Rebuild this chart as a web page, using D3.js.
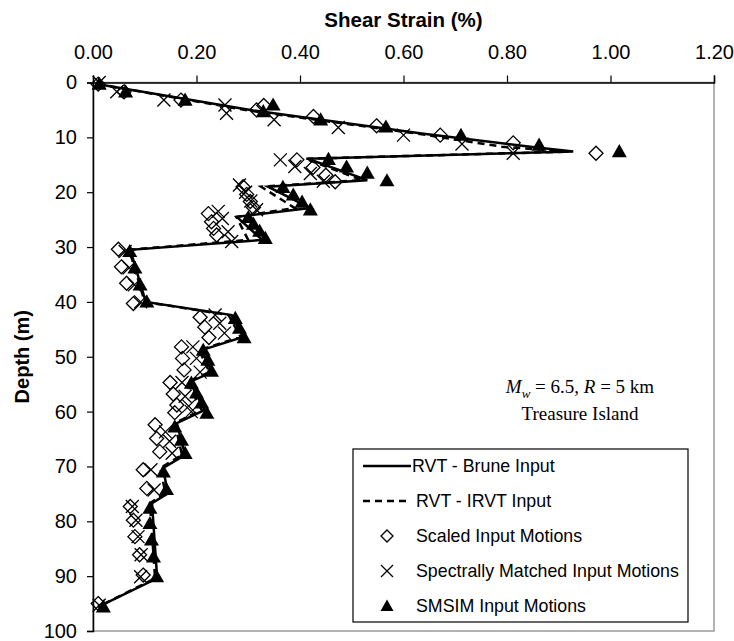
<!DOCTYPE html>
<html>
<head>
<meta charset="utf-8">
<script src="https://cdn.jsdelivr.net/npm/d3@7/dist/d3.min.js"></script>
<style>
  body { margin: 0; background: #fff; }
  text { font-family: "Liberation Sans", Arial, sans-serif; fill: #000; }
</style>
</head>
<body>
<div id="chart"></div>
<script>
// shear strain (%) vs depth (m), Treasure Island
var rvtDepth = [0.3, 5.1, 9.3, 11.7, 12.6, 13.9, 17.8, 19.0, 22.9, 24.5, 28.7, 30.5, 40.0, 42.4, 46.4, 48.8, 52.8, 54.6, 59.7, 62.1, 67.9, 70.3, 74.9, 76.7, 90.4, 95.6];
var bruneStrain = [0.01, 0.31, 0.635, 0.845, 0.928, 0.415, 0.53, 0.338, 0.42, 0.278, 0.327, 0.072, 0.102, 0.268, 0.29, 0.21, 0.23, 0.187, 0.216, 0.162, 0.178, 0.135, 0.145, 0.114, 0.124, 0.01];
var irvtStrain = [0.01, 0.30, 0.625, 0.79, 0.92, 0.41, 0.52, 0.325, 0.39, 0.277, 0.30, 0.07, 0.10, 0.262, 0.285, 0.205, 0.225, 0.182, 0.21, 0.158, 0.172, 0.13, 0.14, 0.11, 0.12, 0.01];

var scaledDepth = [0.3, 1.7, 3.2, 4.2, 5.0, 6.2, 7.9, 9.6, 11.0, 12.9, 14.1, 15.5, 16.9, 18.1, 19.0, 20.4, 21.7, 22.8, 23.9, 25.4, 26.6, 27.8, 30.4, 33.6, 36.6, 40.3, 42.8, 44.6, 46.5, 48.2, 50.3, 52.4, 54.7, 56.8, 58.8, 60.2, 62.4, 64.9, 67.3, 70.6, 74.0, 77.3, 79.8, 82.8, 86.1, 89.8, 95.0];
var scaledStrain = [0.01, 0.06, 0.17, 0.33, 0.316, 0.426, 0.548, 0.671, 0.812, 0.972, 0.394, 0.425, 0.45, 0.468, 0.29, 0.297, 0.304, 0.31, 0.223, 0.229, 0.233, 0.239, 0.049, 0.055, 0.065, 0.078, 0.207, 0.216, 0.224, 0.171, 0.173, 0.176, 0.149, 0.155, 0.162, 0.158, 0.12, 0.123, 0.129, 0.097, 0.104, 0.072, 0.078, 0.081, 0.09, 0.097, 0.01];

var matchedDepth = [0.0, 1.7, 3.2, 4.1, 5.6, 6.8, 8.2, 9.6, 11.2, 12.9, 14.1, 15.3, 16.6, 18.0, 18.7, 20.0, 21.6, 23.2, 23.5, 24.8, 27.2, 29.0, 30.8, 33.8, 36.9, 40.0, 42.4, 43.9, 45.7, 48.2, 50.3, 52.8, 54.7, 57.2, 59.0, 60.0, 63.7, 65.4, 67.6, 70.6, 74.3, 77.3, 79.8, 82.8, 86.1, 90.1, 95.3];
var matchedStrain = [0.012, 0.046, 0.137, 0.255, 0.258, 0.35, 0.474, 0.60, 0.713, 0.812, 0.362, 0.39, 0.42, 0.445, 0.283, 0.295, 0.305, 0.316, 0.242, 0.25, 0.261, 0.268, 0.062, 0.07, 0.08, 0.092, 0.236, 0.245, 0.254, 0.193, 0.2, 0.207, 0.172, 0.178, 0.185, 0.19, 0.14, 0.148, 0.153, 0.112, 0.118, 0.076, 0.083, 0.087, 0.093, 0.092, 0.012];

var smsimDepth = [0.3, 1.7, 3.2, 4.1, 5.3, 6.8, 8.1, 9.6, 11.4, 12.6, 14.0, 15.4, 16.5, 17.9, 19.1, 20.5, 21.8, 23.2, 24.6, 25.8, 27.1, 28.4, 30.8, 33.8, 36.9, 40.0, 43.0, 44.8, 46.5, 48.8, 50.6, 52.6, 54.8, 56.6, 58.4, 60.3, 62.8, 65.2, 67.6, 71.0, 74.2, 77.6, 80.4, 83.4, 86.5, 90.1, 95.6];
var smsimStrain = [0.012, 0.063, 0.178, 0.348, 0.329, 0.44, 0.566, 0.711, 0.862, 1.017, 0.455, 0.49, 0.53, 0.568, 0.367, 0.387, 0.404, 0.42, 0.30, 0.31, 0.322, 0.333, 0.071, 0.081, 0.091, 0.104, 0.275, 0.283, 0.292, 0.213, 0.222, 0.229, 0.19, 0.20, 0.21, 0.22, 0.158, 0.171, 0.178, 0.136, 0.142, 0.11, 0.11, 0.113, 0.117, 0.123, 0.02];

var xTicks = [0, 0.2, 0.4, 0.6, 0.8, 1.0, 1.2];
var yTicks = [0, 10, 20, 30, 40, 50, 60, 70, 80, 90, 100];
var legendLabels = ["RVT - Brune Input", "RVT - IRVT Input", "Scaled Input Motions", "Spectrally Matched Input Motions", "SMSIM Input Motions"];

var W = 734, H = 641;
var plotL = 93, plotT = 82.5, plotR = 714, plotB = 631;

var svg = d3.select("#chart").append("svg")
	.attr("width", W)
	.attr("height", H);

var x = d3.scaleLinear().domain([0, 1.2]).range([plotL, plotR]);
var y = d3.scaleLinear().domain([0, 100]).range([plotT, plotB]);

// plot frame (grey right/bottom like excel)
svg.append("rect")
	.attr("x", plotL).attr("y", plotT)
	.attr("width", plotR - plotL).attr("height", plotB - plotT)
	.attr("fill", "#fff").attr("stroke", "#9a9a9a").attr("stroke-width", 1.5);

svg.append("g")
	.attr("transform", "translate(0," + plotT + ")")
	.call(d3.axisTop(x).tickValues(xTicks).tickSize(7).tickPadding(17).tickFormat(d3.format(".2f")));
svg.append("g")
	.attr("transform", "translate(" + plotL + ",0)")
	.call(d3.axisLeft(y).tickValues(yTicks).tickSize(6).tickPadding(10).tickFormat(d3.format("d")));
svg.selectAll(".domain").attr("stroke", "#000").attr("stroke-width", 1.5);
svg.selectAll(".tick line").attr("stroke", "#000").attr("stroke-width", 1.2);
svg.selectAll(".tick text").attr("font-size", 20).attr("font-family", "Liberation Sans, Arial, sans-serif");

svg.append("text")
	.attr("x", (plotL + plotR) / 2).attr("y", 27)
	.attr("text-anchor", "middle")
	.attr("font-size", 20.5).attr("font-weight", "bold")
	.text("Shear Strain (%)");
svg.append("text")
	.attr("transform", "translate(29," + ((plotT + plotB) / 2) + ") rotate(-90)")
	.attr("text-anchor", "middle")
	.attr("font-size", 20).attr("font-weight", "bold")
	.text("Depth (m)");

// symbol paths
function diamond(r) { return "M0," + (-r) + "L" + r + ",0L0," + r + "L" + (-r) + ",0Z"; }
function cross(r) { return "M" + (-r) + "," + (-r) + "L" + r + "," + r + "M" + (-r) + "," + r + "L" + r + "," + (-r); }
function triangle(r) { return "M0," + (-r) + "L" + r + "," + (r * 0.75) + "L" + (-r) + "," + (r * 0.75) + "Z"; }

var line = d3.line();
var bruneLine = rvtDepth.map(function(d, i) { return [x(bruneStrain[i]), y(d)]; });
var irvtLine = rvtDepth.map(function(d, i) { return [x(irvtStrain[i]), y(d)]; });

svg.append("path")
	.attr("d", line(bruneLine))
	.attr("fill", "none").attr("stroke", "#000").attr("stroke-width", 2.5);
svg.append("path")
	.attr("d", line(irvtLine))
	.attr("fill", "none").attr("stroke", "#000").attr("stroke-width", 2.5)
	.attr("stroke-dasharray", "7,5");

svg.selectAll(".scaled").data(scaledDepth)
	.enter().append("path")
	.attr("class", "scaled")
	.attr("transform", function(d, i) { return "translate(" + x(scaledStrain[i]) + "," + y(d) + ")"; })
	.attr("d", diamond(7))
	.attr("fill", "none").attr("stroke", "#000").attr("stroke-width", 1.3);

svg.selectAll(".matched").data(matchedDepth)
	.enter().append("path")
	.attr("class", "matched")
	.attr("transform", function(d, i) { return "translate(" + x(matchedStrain[i]) + "," + y(d) + ")"; })
	.attr("d", cross(6.5))
	.attr("fill", "none").attr("stroke", "#000").attr("stroke-width", 1.3);

svg.selectAll(".smsim").data(smsimDepth)
	.enter().append("path")
	.attr("class", "smsim")
	.attr("transform", function(d, i) { return "translate(" + x(smsimStrain[i]) + "," + y(d) + ")"; })
	.attr("d", triangle(7.5))
	.attr("fill", "#000");

// annotation
var note = svg.append("text")
	.attr("x", 580).attr("y", 393)
	.attr("text-anchor", "middle")
	.style("font-family", "Liberation Serif, Times New Roman, serif")
	.attr("font-size", 19);
note.append("tspan").attr("font-style", "italic").text("M");
note.append("tspan").attr("font-style", "italic").attr("font-size", 13).attr("dy", 5).text("w");
note.append("tspan").attr("dy", -5).text(" = 6.5, ");
note.append("tspan").attr("font-style", "italic").text("R");
note.append("tspan").text(" = 5 km");
svg.append("text")
	.attr("x", 580).attr("y", 420)
	.attr("text-anchor", "middle")
	.style("font-family", "Liberation Serif, Times New Roman, serif")
	.attr("font-size", 19)
	.text("Treasure Island");

// legend
var lg = svg.append("g");
lg.append("rect")
	.attr("x", 353).attr("y", 449).attr("width", 335).attr("height", 173)
	.attr("fill", "#fff").attr("stroke", "#000").attr("stroke-width", 1.2);
var rowY = [466, 501, 536, 571, 606];
lg.append("line").attr("x1", 363).attr("x2", 411).attr("y1", rowY[0]).attr("y2", rowY[0])
	.attr("stroke", "#000").attr("stroke-width", 2.5);
lg.append("line").attr("x1", 363).attr("x2", 408).attr("y1", rowY[1]).attr("y2", rowY[1])
	.attr("stroke", "#000").attr("stroke-width", 2.5).attr("stroke-dasharray", "7,5");
lg.append("path").attr("transform", "translate(387," + rowY[2] + ")").attr("d", diamond(6))
	.attr("fill", "none").attr("stroke", "#000").attr("stroke-width", 1.3);
lg.append("path").attr("transform", "translate(387," + rowY[3] + ")").attr("d", cross(6))
	.attr("fill", "none").attr("stroke", "#000").attr("stroke-width", 1.3);
lg.append("path").attr("transform", "translate(387," + rowY[4] + ")").attr("d", triangle(6.5))
	.attr("fill", "#000");
lg.selectAll(".lab").data(legendLabels)
	.enter().append("text")
	.attr("class", "lab")
	.attr("x", function(d, i) { return i == 0 ? 412 : 416; })
	.attr("y", function(d, i) { return rowY[i] + 6; })
	.attr("font-size", 17.8)
	.text(function(d) { return d; });
</script>
</body>
</html>
